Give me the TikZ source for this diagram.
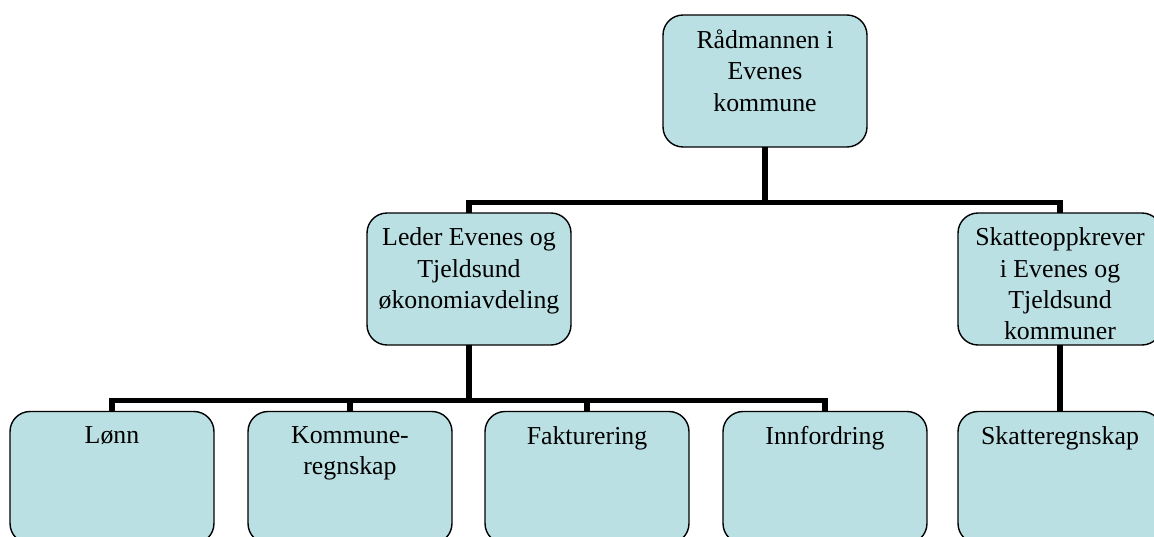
\documentclass[tikz,border=0pt]{standalone}
\usepackage{fontspec}
\setmainfont{Liberation Serif}
\definecolor{boxfill}{RGB}{187,224,227}
\newcommand{\boxtxt}[1]{\parbox[c][2.64cm][t]{4cm}{\centering\vspace*{0.3cm}#1}}
\tikzset{
  orgbox/.style={draw=black, line width=0.8pt, fill=boxfill, rounded corners=0.4cm,
    inner sep=0pt, outer sep=0pt, minimum width=4.08cm, minimum height=2.64cm,
    font=\fontsize{14.7}{17.8}\selectfont},
  link/.style={line width=3.2pt, draw=black}
}
\begin{document}
\begin{tikzpicture}[x=0.02cm, y=-0.02cm]
                \useasboundingbox (0,0) rectangle (1154,537);
                \clip (0,0) rectangle (1154,537);
                % Bus lines
                \coordinate (bustop) at (0,202.5);
                \coordinate (busbot) at (0,400.5);
                % Top level
                \node[orgbox] (raad) at (765,81) {\boxtxt{Rådmannen i\\Evenes\\kommune}};
                % Middle level
                \node[orgbox] (leder) at (469,279) {\boxtxt{Leder Evenes og\\Tjeldsund\\økonomiavdeling}};
                \node[orgbox] (skatt) at (1060,279) {\boxtxt{Skatteoppkrever\\i Evenes og\\Tjeldsund\\kommuner}};
                % Bottom level
                \node[orgbox] (lonn) at (112,477.5) {\boxtxt{Lønn}};
                \node[orgbox] (kommune) at (350,477.5) {\boxtxt{Kommune-\\regnskap}};
                \node[orgbox] (faktura) at (587,477.5) {\boxtxt{Fakturering}};
                \node[orgbox] (innford) at (825,477.5) {\boxtxt{Innfordring}};
                \node[orgbox] (skattregn) at (1060,477.5) {\boxtxt{Skatteregnskap}};
                % Connectors
                \draw[link] (raad.south) -- (raad.south |- bustop) -| (leder.north);
                \draw[link] (raad.south) -- (raad.south |- bustop) -| (skatt.north);
                \foreach \child in {lonn, kommune, faktura, innford}
                    \draw[link] (leder.south) -- (leder.south |- busbot) -| (\child.north);
                \draw[link] (skatt.south) -- (skattregn.north);
            \end{tikzpicture}
\end{document}
